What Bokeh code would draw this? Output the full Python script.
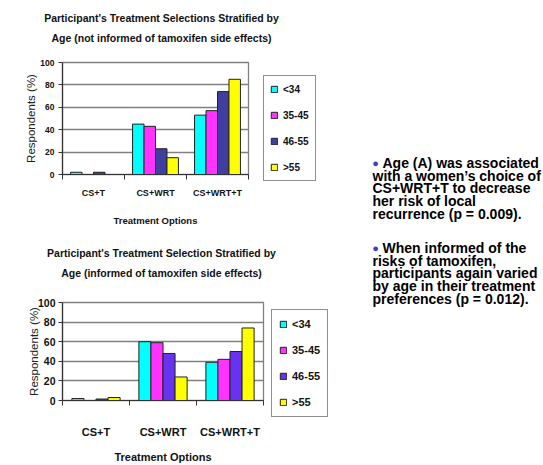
from bokeh.plotting import figure
from bokeh.layouts import row, column
from bokeh.models import (Range1d, FixedTicker, Legend, LegendItem, Label,
                          ColumnDataSource)
from bokeh.transform import dodge
from bokeh.embed import file_html
from bokeh.resources import INLINE

# ---------------- data ----------------
treatments = ["CS+T", "CS+WRT", "CS+WRT+T"]
age_groups = ["<34", "35-45", "46-55", ">55"]
y_ticks = [0, 20, 40, 60, 80, 100]

# not informed of tamoxifen side effects (%)
top_lt34 = [2, 45, 53]
top_35_45 = [0, 43, 57]
top_46_55 = [2, 23, 74]
top_gt55 = [0, 15, 85]

# informed of tamoxifen side effects (%)
bot_lt34 = [2, 60, 39]
bot_35_45 = [0, 59, 42]
bot_46_55 = [1.5, 48, 50]
bot_gt55 = [3, 24, 74]

top_title = ["Participant's Treatment Selections Stratified by",
             "Age (not informed of tamoxifen side effects)"]
bot_title = ["Participant's Treatment Selection Stratified by",
             "Age (informed of tamoxifen side effects)"]

bullet1 = ["Age (A) was associated", "with a women\u2019s choice of",
           "CS+WRT+T to decrease", "her risk of local",
           "recurrence (p = 0.009)."]
bullet2 = ["When informed of the", "risks of tamoxifen,",
           "participants again varied", "by age in their treatment",
           "preferences (p = 0.012)."]

top_colors = ["#00FFFF", "#FF33FF", "#3F3F9F", "#FFFF00"]
bot_colors = ["#00FFFF", "#FF33FF", "#6633EE", "#FFFF00"]

SANS = "'Liberation Sans', Arial, sans-serif"


def blank_fig(w, h, xr=(0, 1), yr=(0, 1)):
    f = figure(width=w, height=h, output_backend="svg", toolbar_location=None,
               title=None, x_axis_location=None, y_axis_location=None,
               x_range=Range1d(*xr), y_range=Range1d(*yr),
               min_border=0, min_border_left=0, min_border_right=0,
               min_border_top=0, min_border_bottom=0,
               outline_line_color=None,
               background_fill_color="white", border_fill_color="white")
    f.xgrid.grid_line_color = None
    f.ygrid.grid_line_color = None
    f.xgrid.visible = False
    f.ygrid.visible = False
    return f


def add_bars(p, src, colors, bw, visible=True):
    return [p.vbar(x=dodge("x", (i - 1.5) * bw), top=f"s{i}", width=bw,
                   source=src, fill_color=col, line_color="#222222",
                   line_width=1, visible=visible)
            for i, col in enumerate(colors)]


def make_chart(series, colors, titles, w, h, mb_t, mb_b, group, sz):
    src = ColumnDataSource(dict(x=[i + 0.5 for i in range(len(treatments))],
                                **{f"s{i}": s for i, s in enumerate(series)}))
    p = figure(width=w, height=h, output_backend="svg", toolbar_location=None,
               title=None,
               x_range=Range1d(0, len(treatments)), y_range=Range1d(0, 100),
               min_border_left=62, min_border_right=2,
               min_border_top=mb_t, min_border_bottom=mb_b,
               background_fill_color="white", border_fill_color="white")
    bw = group / 4
    add_bars(p, src, colors, bw)

    # x axis: category labels centered, tick marks at category boundaries
    xa = p.xaxis[0]
    xa.ticker = FixedTicker(ticks=[i + 0.5 for i in range(len(treatments))],
                            minor_ticks=list(range(len(treatments) + 1)))
    xa.major_label_overrides = {i + 0.5: t for i, t in enumerate(treatments)}
    xa.major_tick_line_color = None
    xa.major_tick_out = 0
    xa.minor_tick_line_color = "#333333"
    xa.minor_tick_in = 0
    xa.minor_tick_out = 5
    xa.axis_line_color = "#333333"
    xa.axis_line_width = 1.2
    xa.major_label_text_font = SANS
    xa.major_label_text_font_style = "bold"
    xa.major_label_text_font_size = sz["xtick"]
    xa.major_label_text_color = "#111111"
    xa.major_label_standoff = sz["xtick_so"]
    xa.axis_label = "Treatment Options"
    xa.axis_label_text_font = SANS
    xa.axis_label_text_font_style = "bold"
    xa.axis_label_text_font_size = sz["xlab"]
    xa.axis_label_text_color = "#111111"
    xa.axis_label_standoff = sz["xlab_so"]

    ya = p.yaxis[0]
    ya.ticker = FixedTicker(ticks=y_ticks)
    ya.major_tick_in = 0
    ya.major_tick_out = 4
    ya.minor_tick_line_color = None
    ya.major_tick_line_color = "#333333"
    ya.axis_line_color = "#333333"
    ya.axis_line_width = 1.2
    ya.major_label_text_font = SANS
    ya.major_label_text_font_style = "bold"
    ya.major_label_text_font_size = sz["ytick"]
    ya.major_label_text_color = "#111111"
    ya.major_label_standoff = sz["ytick_so"]
    ya.axis_label = "Respondents (%)"
    ya.axis_label_text_font = SANS
    ya.axis_label_text_font_style = "normal"
    ya.axis_label_text_font_size = sz["ylab"]
    ya.axis_label_text_color = "#222222"
    ya.axis_label_standoff = sz["ylab_so"]

    p.xgrid.grid_line_color = None
    p.ygrid.grid_line_color = "#808080"
    p.ygrid.grid_line_width = 1.3
    p.ygrid.ticker = FixedTicker(ticks=y_ticks)
    p.outline_line_color = "#808080"
    p.outline_line_width = 1.3

    # legend panel: a frame-only figure next to the chart; its renderers are
    # the same bar series, hidden, so only the legend is drawn
    lg = blank_fig(sz["leg_w"], h, xr=(100, 101), yr=(-300, -200))
    lrs = add_bars(lg, src, colors, bw, visible=False)
    legend = Legend(items=[LegendItem(label=a, renderers=[r])
                           for a, r in zip(age_groups, lrs)],
                    location=sz["leg_loc"],
                    label_text_font=SANS, label_text_font_style="bold",
                    label_text_font_size=sz["leg_font"],
                    label_text_color="#111111",
                    glyph_width=8, glyph_height=8, label_height=14,
                    label_standoff=5, spacing=sz["leg_sp"],
                    padding=sz["leg_pad"], margin=0,
                    inactive_fill_alpha=0,
                    border_line_color="#222222", border_line_width=1,
                    background_fill_color="white", background_fill_alpha=1)
    lg.add_layout(legend, "center")

    # title panel
    tf = blank_fig(w + sz["leg_w"], sz["title_h"])
    for k, t in enumerate(titles):
        tf.add_layout(Label(x=sz["title_x"], y=sz["title_y"][k],
                            x_units="screen", y_units="screen", text=t,
                            text_align="center", text_baseline="middle",
                            text_font=SANS, text_font_style="bold",
                            text_font_size=sz["title"], text_color="#111111"))
    return column(tf, row(p, column(lg)))


top_sz = dict(xtick="9px", xtick_so=8, xlab="9.5px", xlab_so=14,
              ytick="8.5px", ytick_so=4, ylab="11.5px", ylab_so=0,
              leg_w=80, leg_loc=(13, 57), leg_font="10px", leg_sp=12, leg_pad=6,
              title="10.5px", title_h=50, title_x=161, title_y=[33, 13])
bot_sz = dict(xtick="11px", xtick_so=20, xlab="11px", xlab_so=10,
              ytick="10.5px", ytick_so=3, ylab="11.5px", ylab_so=-5,
              leg_w=65, leg_loc=(6, 48), leg_font="11px", leg_sp=12, leg_pad=7,
              title="10.5px", title_h=50, title_x=161, title_y=[36, 16])

c_top = make_chart([top_lt34, top_35_45, top_46_55, top_gt55], top_colors,
                   top_title, 250, 188, 12, 64, 0.74, top_sz)
c_bot = make_chart([bot_lt34, bot_35_45, bot_46_55, bot_gt55], bot_colors,
                   bot_title, 265, 177, 14, 56, 0.72, bot_sz)

# ---------------- text panel ----------------
TW, TH = 213, 465
pt = blank_fig(TW, TH)

para_y = [[162, 175, 187.5, 200, 213], [247, 260, 272.5, 285, 298]]
for lines, ys in zip([bullet1, bullet2], para_y):
    pt.add_layout(Label(x=45, y=TH - ys[0], x_units="screen", y_units="screen",
                        text="\u25CF", text_align="center", text_baseline="middle",
                        text_font=SANS, text_font_size="11px",
                        text_color="#4040C0"))
    for k, (ln, yy) in enumerate(zip(lines, ys)):
        pt.add_layout(Label(x=52 if k == 0 else 42, y=TH - yy,
                            x_units="screen", y_units="screen", text=ln,
                            text_align="left", text_baseline="middle",
                            text_font=SANS, text_font_style="bold",
                            text_font_size="14px", text_color="#000000"))

layout = row(column(c_top, c_bot), pt)

open("out.html", "w").write(file_html(layout, INLINE))
